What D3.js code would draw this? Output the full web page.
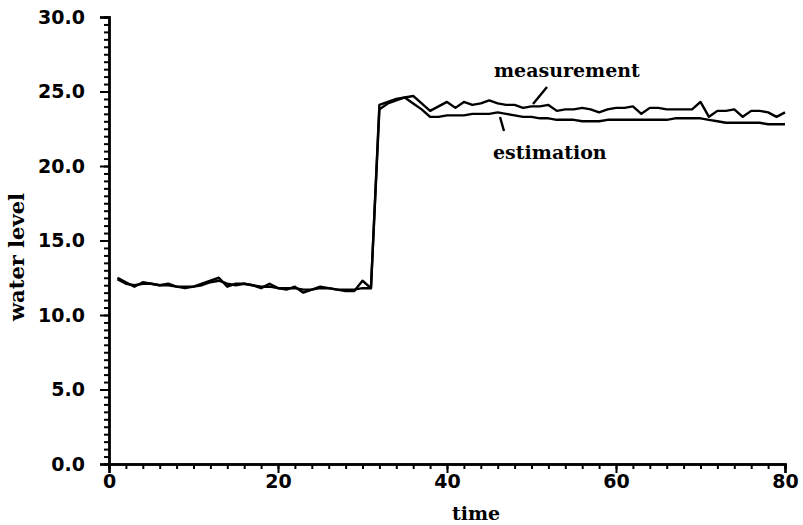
<!DOCTYPE html>
<html>
<head>
<meta charset="utf-8">
<script src="https://cdn.jsdelivr.net/npm/d3@7"></script>
<style>
  body { margin: 0; background: white; }
  .tick text { font-family: "DejaVu Sans", sans-serif; font-weight: bold; }
  .lbl { font-family: "DejaVu Serif", serif; font-weight: bold; font-size: 19px; }
</style>
</head>
<body>
<script>
var width = 803, height = 525;

// time steps 1..80
var time = d3.range(1, 81);

var measurement = [
  12.5, 12.2, 11.9, 12.2, 12.1, 12.0, 12.1, 11.9, 11.8, 11.9,
  12.1, 12.3, 12.5, 11.9, 12.1, 12.1, 12.0, 11.8, 12.1, 11.8,
  11.7, 11.9, 11.5, 11.7, 11.9, 11.8, 11.7, 11.6, 11.6, 12.3,
  11.8, 24.1, 24.3, 24.5, 24.6, 24.7, 24.2, 23.7, 24.0, 24.3,
  23.9, 24.3, 24.1, 24.2, 24.4, 24.2, 24.1, 24.1, 23.9, 24.0,
  24.0, 24.1, 23.7, 23.8, 23.8, 23.9, 23.8, 23.6, 23.8, 23.9,
  23.9, 24.0, 23.5, 23.9, 23.9, 23.8, 23.8, 23.8, 23.8, 24.3,
  23.3, 23.7, 23.7, 23.8, 23.3, 23.7, 23.7, 23.6, 23.3, 23.6
];

var estimation = [
  12.4, 12.1, 12.0, 12.1, 12.1, 12.0, 12.0, 11.9, 11.9, 11.9,
  12.0, 12.2, 12.3, 12.1, 12.0, 12.1, 12.0, 11.9, 11.9, 11.8,
  11.8, 11.8, 11.7, 11.7, 11.8, 11.8, 11.7, 11.7, 11.7, 11.8,
  11.8, 23.8, 24.2, 24.4, 24.6, 24.2, 23.8, 23.3, 23.3, 23.4,
  23.4, 23.4, 23.5, 23.5, 23.5, 23.6, 23.5, 23.4, 23.3, 23.3,
  23.2, 23.2, 23.1, 23.1, 23.1, 23.0, 23.0, 23.0, 23.1, 23.1,
  23.1, 23.1, 23.1, 23.1, 23.1, 23.1, 23.2, 23.2, 23.2, 23.2,
  23.1, 23.0, 22.9, 22.9, 22.9, 22.9, 22.9, 22.8, 22.8, 22.8
];

var xTicks = [0, 20, 40, 60, 80];
var yTicks = [0, 5, 10, 15, 20, 25, 30];

var svg = d3.select("body").append("svg")
  .attr("width", width)
  .attr("height", height)
  .style("background-color", "white");

var x = d3.scaleLinear().domain([0, 80]).range([109, 785]);
var y = d3.scaleLinear().domain([0, 30]).range([464, 17]);

// minor ticks first, major ones on top
svg.append("g")
  .attr("transform", "translate(0," + y(0) + ")")
  .call(d3.axisBottom(x).tickValues(d3.range(0, 81, 2)).tickSize(5).tickFormat(""));
svg.append("g")
  .attr("transform", "translate(" + x(0) + ",0)")
  .call(d3.axisLeft(y).tickValues(d3.range(0, 30.01, 0.5)).tickSize(5).tickFormat(""));

var xAxis = svg.append("g")
  .attr("transform", "translate(0," + y(0) + ")")
  .call(d3.axisBottom(x).tickValues(xTicks).tickSize(9).tickPadding(2).tickFormat(d3.format("d")));
var yAxis = svg.append("g")
  .attr("transform", "translate(" + x(0) + ",0)")
  .call(d3.axisLeft(y).tickValues(yTicks).tickSize(9).tickPadding(15).tickFormat(d3.format(".1f")));

svg.selectAll(".domain").attr("stroke-width", 2.4);
svg.selectAll(".tick line").attr("stroke-width", 2);
svg.selectAll(".tick text").attr("font-size", 19).attr("fill", "#000");

var line = d3.line()
  .x(function(d) { return x(d[0]); })
  .y(function(d) { return y(d[1]); });

[measurement, estimation].forEach(function(s) {
  svg.append("path")
    .datum(time.map(function(t, i) { return [t, s[i]]; }))
    .attr("d", line)
    .attr("fill", "none")
    .attr("stroke", "#000")
    .attr("stroke-width", 2.4)
    .attr("stroke-linejoin", "round");
});

// labels
svg.append("text").attr("class", "lbl").attr("x", 452).attr("y", 520).text("time");
svg.append("text").attr("class", "lbl")
  .attr("transform", "translate(24,257) rotate(-90)")
  .attr("text-anchor", "middle").style("font-size", "21px").text("water level");
svg.append("text").attr("class", "lbl").attr("x", 494).attr("y", 77).text("measurement");
svg.append("text").attr("class", "lbl").attr("x", 493).attr("y", 159).text("estimation");

// pointer strokes
svg.append("line").attr("x1", 533).attr("y1", 104).attr("x2", 547).attr("y2", 87)
  .attr("stroke", "#000").attr("stroke-width", 2.4);
svg.append("line").attr("x1", 500).attr("y1", 117).attr("x2", 504).attr("y2", 131)
  .attr("stroke", "#000").attr("stroke-width", 2.4);
</script>
</body>
</html>
